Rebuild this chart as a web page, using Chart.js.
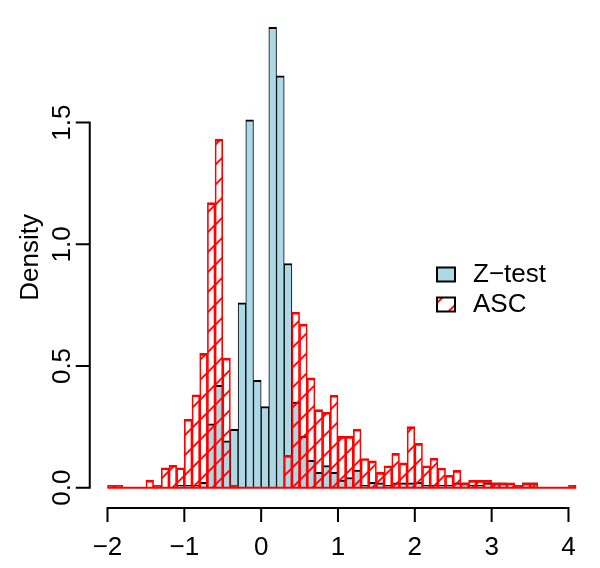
<!DOCTYPE html>
<html><head><meta charset="utf-8">
<script src="https://cdn.jsdelivr.net/npm/chart.js@4/dist/chart.umd.min.js"></script>
<style>html,body{margin:0;padding:0;background:#fff;}</style>
</head><body>
<canvas id="c" width="600" height="568"></canvas>
<script>
// Histogram bin edges (width 0.1)
const binEdges = [-2.0,-1.9,-1.8,-1.7,-1.6,-1.5,-1.4,-1.3,-1.2,-1.1,-1.0,-0.9,-0.8,-0.7,-0.6,-0.5,-0.4,-0.3,-0.2,-0.1,
  0.0,0.1,0.2,0.3,0.4,0.5,0.6,0.7,0.8,0.9,1.0,1.1,1.2,1.3,1.4,1.5,1.6,1.7,1.8,1.9,
  2.0,2.1,2.2,2.3,2.4,2.5,2.6,2.7,2.8,2.9,3.0,3.1,3.2,3.3,3.4,3.5,3.6,3.7,3.8,3.9,4.0,4.1];
// Density per bin, Z-test
const zTest = [0,0,0,0,0,0,0,0,0,0.01,
  0.01,0.01,0.022,0.262,0.421,0.192,0.24,0.76,1.511,0.441,
  0.333,1.892,1.692,0.921,0.352,0.212,0.112,0.063,0.091,0.063,
  0.031,0.042,0.072,0.01,0.022,0.02,0.01,0.02,0.02,0.02,
  0.022,0.01,0.01,0.01,0.01,0.02,0.02,0.01,0.01,0.02,
  0.02,0.02,0,0.01,0.02,0.02,0,0,0,0,0];
// Density per bin, ASC
const asc = [0.01,0.01,0,0,0,0.031,0.01,0.082,0.092,0.082,
  0.281,0.382,0.552,1.171,1.432,0.532,0.01,0,0,0,
  0,0,0,0.133,0.721,0.672,0.451,0.321,0.31,0.38,
  0.211,0.211,0.24,0.12,0.11,0.063,0.09,0.141,0.102,0.251,
  0.182,0.09,0.121,0.081,0.051,0.071,0.02,0.03,0.03,0.03,
  0.02,0.02,0.02,0.01,0.02,0.02,0,0,0,0,0.01];
const xTicks = [-2,-1,0,1,2,3,4];
const xTickLabels = ['\u22122','\u22121','0','1','2','3','4'];
const yTicks = [0,0.5,1.0,1.5];
const yTickLabels = ['0.0','0.5','1.0','1.5'];
const seriesNames = ['Z\u2212test','ASC'];
const yTitle = 'Density';

const canvas = document.getElementById('c');
const mainCtx = canvas.getContext('2d');
function makeHatch(color, period, lw) {
  const c = document.createElement('canvas');
  c.width = period; c.height = period;
  const g = c.getContext('2d');
  g.strokeStyle = color; g.lineWidth = lw;
  g.beginPath();
  g.moveTo(-period, period); g.lineTo(period, -period);
  g.moveTo(-period, 2*period); g.lineTo(2*period, -period);
  g.moveTo(0, 2*period); g.lineTo(2*period, 0);
  g.stroke();
  return mainCtx.createPattern(c, 'repeat');
}
const hatch = makeHatch('#FF0000', 20, 1.8);
const binMids = binEdges.slice(0, -1).map((e, i) => (e + binEdges[i+1]) / 2);
const FONT = '26px "Liberation Sans", Arial, Helvetica, sans-serif';

const axesPlugin = {
  id: 'rAxes',
  afterDraw(chart) {
    const ctx = chart.ctx, xs = chart.scales.x, ys = chart.scales.y, ca = chart.chartArea;
    ctx.save();
    ctx.strokeStyle = '#000'; ctx.fillStyle = '#000'; ctx.lineWidth = 2; ctx.lineCap = 'butt';
    ctx.font = FONT;
    // x axis
    const yA = ca.bottom + 2;
    ctx.beginPath();
    ctx.moveTo(xs.getPixelForValue(xTicks[0]) - 1, yA);
    ctx.lineTo(xs.getPixelForValue(xTicks[xTicks.length-1]) + 1, yA);
    xTicks.forEach(t => { const p = xs.getPixelForValue(t); ctx.moveTo(p, yA); ctx.lineTo(p, yA + 14); });
    ctx.stroke();
    ctx.textAlign = 'center'; ctx.textBaseline = 'alphabetic';
    xTicks.forEach((t, i) => ctx.fillText(xTickLabels[i], xs.getPixelForValue(t), 555));
    // y axis
    const xA = ca.left + 1;
    ctx.beginPath();
    ctx.moveTo(xA, ys.getPixelForValue(yTicks[0]) + 1);
    ctx.lineTo(xA, ys.getPixelForValue(yTicks[yTicks.length-1]) - 1);
    yTicks.forEach(t => { const p = ys.getPixelForValue(t); ctx.moveTo(xA, p); ctx.lineTo(xA - 14, p); });
    ctx.stroke();
    yTicks.forEach((t, i) => {
      ctx.save();
      ctx.translate(70, ys.getPixelForValue(t));
      ctx.rotate(-Math.PI/2);
      ctx.textAlign = 'center'; ctx.textBaseline = 'alphabetic';
      ctx.fillText(yTickLabels[i], 0, 0);
      ctx.restore();
    });
    // y title
    ctx.save();
    ctx.translate(38, (ca.top + ca.bottom) / 2);
    ctx.rotate(-Math.PI/2);
    ctx.textAlign = 'center'; ctx.textBaseline = 'alphabetic';
    ctx.fillText(yTitle, 0, 0);
    ctx.restore();
    // legend
    const ds = chart.data.datasets;
    const rows = [{ds: ds[0], y: 267.5}, {ds: ds[1], y: 297.5}];
    rows.forEach(r => {
      ctx.fillStyle = '#fff';
      ctx.fillRect(437, r.y, 18, 14);
      ctx.fillStyle = r.ds.legendFill;
      ctx.fillRect(437, r.y, 18, 14);
      ctx.lineWidth = 2; ctx.strokeStyle = '#000';
      ctx.strokeRect(437, r.y, 18, 14);
      ctx.fillStyle = '#000';
      ctx.textAlign = 'left'; ctx.textBaseline = 'middle';
      ctx.fillText(r.ds.label, 473, r.y + 7.5);
    });
    ctx.restore();
  }
};

new Chart(canvas, {
  type: 'bar',
  data: {
    datasets: [
      { type: 'bar', label: seriesNames[0], data: binMids.map((x, i) => ({x, y: zTest[i]})),
        backgroundColor: '#ADD8E6', borderColor: '#000000', legendFill: '#ADD8E6',
        borderWidth: {top: 2, left: 1, right: 1, bottom: 0}, borderSkipped: false,
        grouped: false, barPercentage: 1, categoryPercentage: 1, order: 3 },
      { type: 'bar', label: seriesNames[1], data: binMids.map((x, i) => ({x, y: asc[i]})),
        backgroundColor: hatch, borderColor: '#FF0000', legendFill: hatch,
        borderWidth: {top: 2, left: 1, right: 1, bottom: 0}, borderSkipped: false,
        grouped: false, barPercentage: 1, categoryPercentage: 1, order: 2 },
      { type: 'line', label: 'base', data: [{x: binEdges[0], y: 0}, {x: binEdges[binEdges.length-1], y: 0}],
        borderColor: '#FF0000', borderWidth: 2, pointRadius: 0, order: 1 }
    ]
  },
  options: {
    responsive: false, animation: false, devicePixelRatio: 1,
    layout: { padding: { left: 88.75, right: 5.1, top: 8.8, bottom: 61.9 } },
    scales: {
      x: { type: 'linear', min: -2.244, max: 4.344, display: false, offset: false },
      y: { type: 'linear', min: -0.0757, max: 1.9677, display: false }
    },
    plugins: { legend: { display: false }, tooltip: { enabled: false } }
  },
  plugins: [axesPlugin]
});
</script>
</body></html>
